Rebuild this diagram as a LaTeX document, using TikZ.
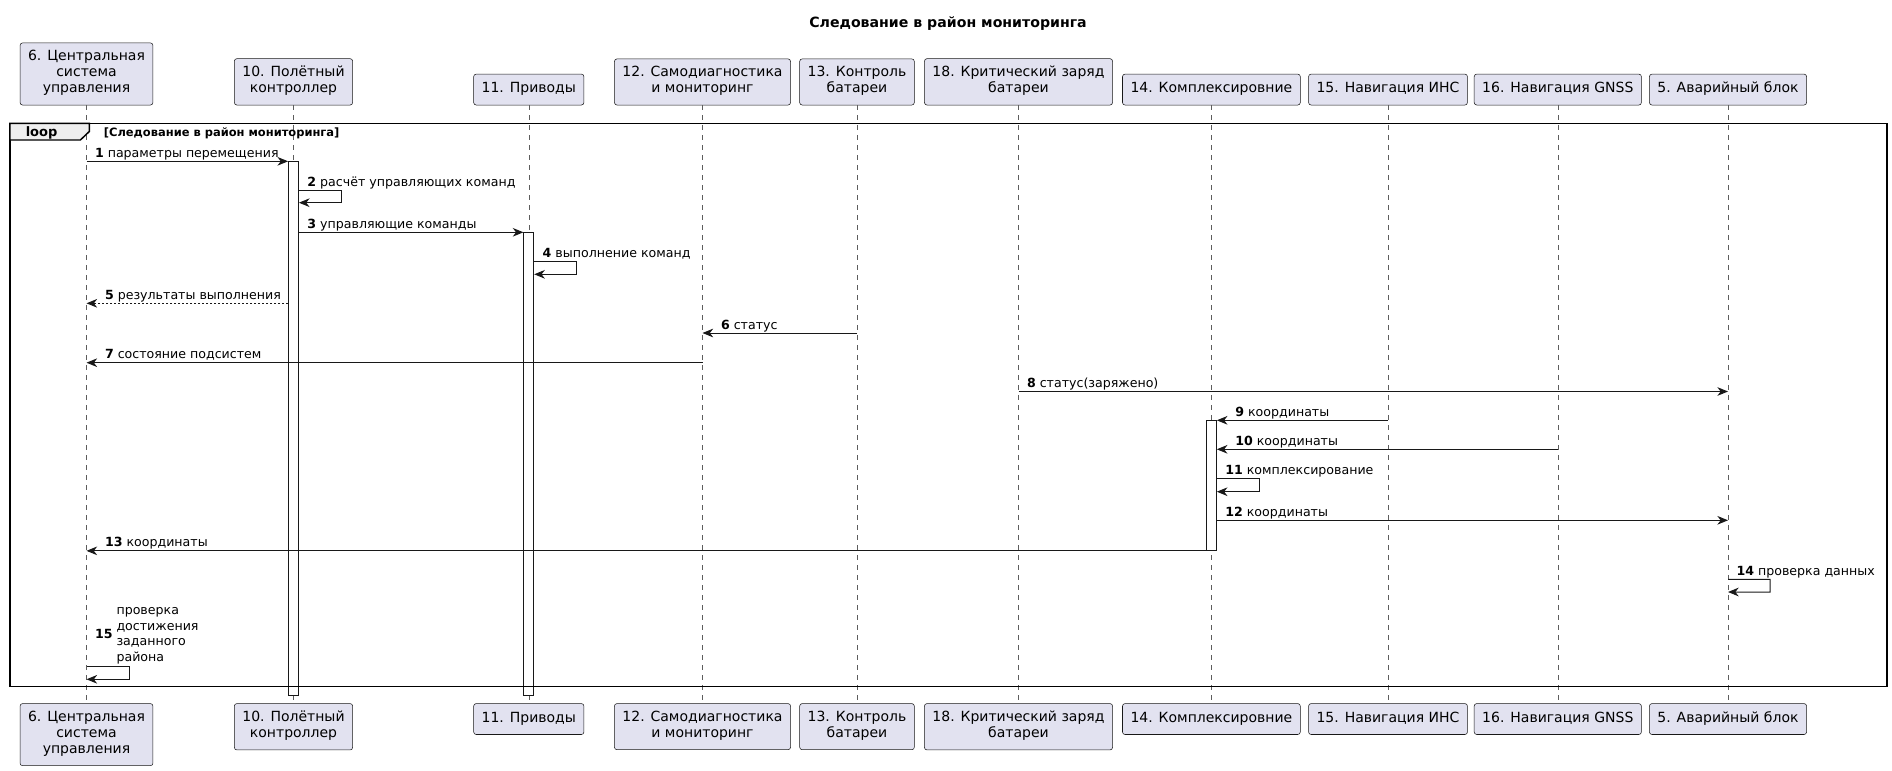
\documentclass[tikz,border=0pt]{standalone}
\usepackage{fontspec}
\setmainfont{DejaVu Sans}
\usepackage{tikz}
\usetikzlibrary{arrows.meta,positioning}
\definecolor{partfill}{HTML}{E2E2F0}
\definecolor{partline}{HTML}{181818}
\definecolor{tabfill}{HTML}{EEEEEE}

\begin{document}
\begin{tikzpicture}[
  x=0.75pt,y=-0.75pt,
  part/.style={rectangle,rounded corners=1.9pt,draw=partline,line width=0.4pt,fill=partfill,align=center,
    font=\fontsize{10.5}{12}\selectfont,inner xsep=6pt,inner ysep=5.6pt,
    execute at begin node=\strut,execute at end node=\strut},
  headbox/.style={part,anchor=south},
  footbox/.style={part,anchor=north},
  life/.style={draw=partline!70,line width=0.4pt,dash pattern=on 3.75pt off 3.75pt},
  activ/.style={rectangle,draw=partline,line width=0.6pt,fill=white,inner sep=0pt,minimum width=7.5pt,anchor=north},
  msg/.style={-{Stealth[length=8pt,width=6.5pt,inset=2.5pt]},line width=0.75pt,draw=partline},
  reply/.style={msg,dash pattern=on 1.5pt off 1.5pt},
  lbl/.style={anchor=base west,inner sep=0pt,yshift=3pt,font=\fontsize{9.45}{11.7}\selectfont},
  lblR/.style={lbl,pos=0,xshift=6pt},
  lblL/.style={lbl,pos=1,xshift=13.5pt}
]
  \useasboundingbox (0,0) rectangle (1892,771);
  \node[font=\bfseries\fontsize{10.6}{12}\selectfont] (title) at (948,23.3) {Следование в район мониторинга};

  % participants, top row
  \node[headbox] (csu) at (86.5,105.3) {6. Центральная\\система\\управления};
  \node[headbox] (fc) at (293.5,105.3) {10. Полётный\\контроллер};
  \node[headbox] (drv) at (528.8,105.3) {11. Приводы};
  \node[headbox] (diag) at (702.5,105.3) {12. Самодиагностика\\и мониторинг};
  \node[headbox] (batt) at (857,105.3) {13. Контроль\\батареи};
  \node[headbox] (crit) at (1018.5,105.3) {18. Критический заряд\\батареи};
  \node[headbox] (fus) at (1211.4,105.3) {14. Комплексировние};
  \node[headbox] (ins) at (1388,105.3) {15. Навигация ИНС};
  \node[headbox] (gnss) at (1557.8,105.3) {16. Навигация GNSS};
  \node[headbox] (emg) at (1728,105.3) {5. Аварийный блок};

  % participants, bottom row
  \node[footbox] (csuB) at (86.5,703.3) {6. Центральная\\система\\управления};
  \node[footbox] (fcB) at (293.5,703.3) {10. Полётный\\контроллер};
  \node[footbox] (drvB) at (528.8,703.3) {11. Приводы};
  \node[footbox] (diagB) at (702.5,703.3) {12. Самодиагностика\\и мониторинг};
  \node[footbox] (battB) at (857,703.3) {13. Контроль\\батареи};
  \node[footbox] (critB) at (1018.5,703.3) {18. Критический заряд\\батареи};
  \node[footbox] (fusB) at (1211.4,703.3) {14. Комплексировние};
  \node[footbox] (insB) at (1388,703.3) {15. Навигация ИНС};
  \node[footbox] (gnssB) at (1557.8,703.3) {16. Навигация GNSS};
  \node[footbox] (emgB) at (1728,703.3) {5. Аварийный блок};

  \foreach \p in {csu,fc,drv,diag,batt,crit,fus,ins,gnss,emg}
    \draw[life] (\p) -- (\p B);

  % activations
  \node[activ,minimum height=400.5pt] (fcA) at (fc |- 0,161.3) {};
  \node[activ,minimum height=347.25pt] (drvA) at (drv |- 0,232.3) {};
  \node[activ,minimum height=97.3pt] (fusA) at (fus |- 0,420.3) {};

  % loop frame
  \draw[line width=1.1pt] (9.8,123.3) rectangle (1887,686.7);
  \draw[line width=1.1pt,fill=tabfill] (9.8,123.3) -- (89.3,123.3) -- (89.3,131.5) -- (80.4,140) -- (9.8,140) -- cycle;
  \node[font=\bfseries\fontsize{9.75}{11}\selectfont,anchor=base west,inner sep=0pt] (loopkw) at (25.5,136.3) {loop};
  \node[font=\bfseries\fontsize{8.6}{10}\selectfont,anchor=base west,inner sep=0pt] (loopcond) at (103.6,136.3) {[Следование в район мониторинга]};

  % messages
  \draw[msg] (csu |- 0,161.3) -- node[lblR] {\textbf{1} параметры перемещения} (fcA.north west);
  \draw[msg] (fcA.east |- 0,190.7) -- node[lblR] {\textbf{2} расчёт управляющих команд} ++(42.5,0) -- ++(0,12) -- (fcA.east |- 0,202.7);
  \draw[msg] (fcA.east |- 0,232.3) -- node[lblR] {\textbf{3} управляющие команды} (drvA.north west);
  \draw[msg] (drvA.east |- 0,261.7) -- node[lblR] {\textbf{4} выполнение команд} ++(42,0) -- ++(0,12.6) -- (drvA.east |- 0,274.3);
  \draw[reply] (fcA.west |- 0,303.3) -- node[lblL] {\textbf{5} результаты выполнения} (csu |- 0,303.3);
  \draw[msg] (batt |- 0,333) -- node[lblL] {\textbf{6} статус} (diag |- 0,333);
  \draw[msg] (diag |- 0,362.7) -- node[lblL] {\textbf{7} состояние подсистем} (csu |- 0,362.7);
  \draw[msg] (crit |- 0,391.5) -- node[lblR] {\textbf{8} статус(заряжено)} (emg |- 0,391.5);
  \draw[msg] (ins |- fusA.north) -- node[lblL] {\textbf{9} координаты} (fusA.north east);
  \draw[msg] (gnss |- 0,449.3) -- node[lblL] {\textbf{10} координаты} (fusA.east |- 0,449.3);
  \draw[msg] (fusA.east |- 0,478.7) -- node[lblR] {\textbf{11} комплексирование} ++(43,0) -- ++(0,13) -- (fusA.east |- 0,491.7);
  \draw[msg] (fusA.east |- 0,520.3) -- node[lblR] {\textbf{12} координаты} (emg |- 0,520.3);
  \draw[msg] (fusA.south west) -- node[lblL] {\textbf{13} координаты} (csu |- fusA.south);
  \draw[msg] (emg |- 0,579.3) -- node[lblR] {\textbf{14} проверка данных} ++(42,0) -- ++(0,12.7) -- (emg |- 0,592);
  \draw[msg] (csu |- 0,666.7) -- node[lblR,anchor=south west,yshift=-3pt]
    {\textbf{15} \begin{tabular}[c]{@{}l@{}}проверка\\достижения\\заданного\\района\end{tabular}} ++(42.5,0) -- ++(0,12.6) -- (csu |- 0,679.3);
\end{tikzpicture}
\end{document}
